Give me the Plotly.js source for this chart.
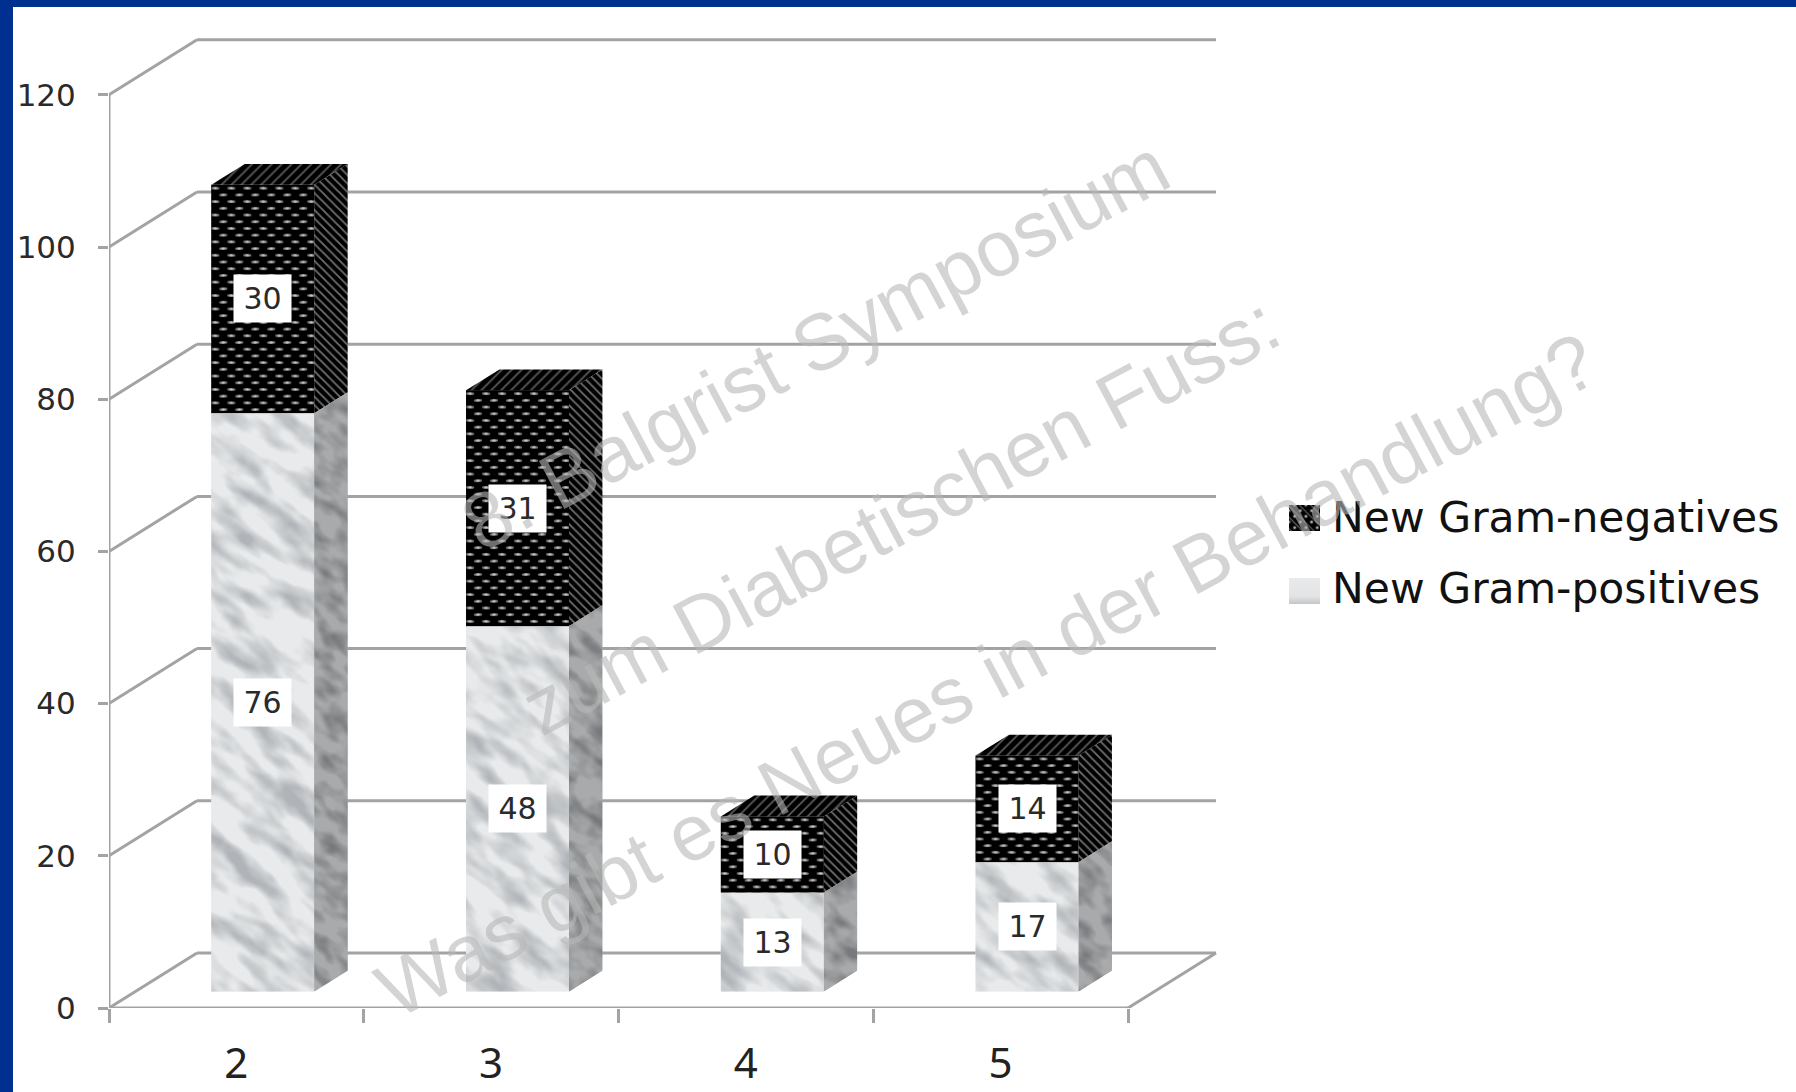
<!DOCTYPE html>
<html>
<head>
<meta charset="utf-8">
<script src="https://cdn.plot.ly/plotly-3.0.1.min.js"></script>
<style>html,body{margin:0;padding:0;background:#fff;overflow:hidden}</style>
</head>
<body>
<div id="chart" style="width:1796px;height:1092px"></div>
<script>
// Chart values
const categories = [2, 3, 4, 5];
const gramPositives = [76, 48, 13, 17];
const gramNegatives = [30, 31, 10, 14];
const valueTicks = [0, 20, 40, 60, 80, 100, 120];
const categoryEdges = [1.5, 2.5, 3.5, 4.5, 5.5];
const seriesNames = ['New Gram-negatives', 'New Gram-positives'];
const watermarkLines = ['8. Balgrist Symposium', 'zum Diabetischen Fuss:', 'Was gibt es Neues in der Behandlung?'];

// Frame of the plot and the oblique projection used for the box look
const W = 1796, H = 1092;
const PLOT = {l: 109, r: 1230, t: 30, b: 1008};
const PX_X = 254.75, PX_Y = 7.61;          // pixels per category, pixels per value unit
const DEPTH_X = 88 / PX_X, DEPTH_Y = 55 / PX_Y; // full floor depth in axis units
const Z0 = 0.3, Z1 = 0.68, BAR_W = 0.404;  // box position within the depth, box width
const GRID = '#a3a3a3', TEXT = '#2a2a2a';

const px = v => (v - PLOT.l) / (PLOT.r - PLOT.l);
const py = v => 1 - (v - PLOT.t) / (PLOT.b - PLOT.t);
const project = (x, y, z) => [x + z * DEPTH_X, y + z * DEPTH_Y];
const svgUri = s => 'data:image/svg+xml;charset=utf-8,' + encodeURIComponent(s);

// Marble texture, optionally cut to a polygon given in pixels
function marble(w, h, seed, base, vein, freq, poly) {
  const rgb = [1, 3, 5].map(i => (parseInt(vein.substr(i, 2), 16) / 255).toFixed(3));
  const clip = poly ? `<clipPath id='c'><polygon points='${poly.map(p => p.join(',')).join(' ')}'/></clipPath>` : '';
  const cattr = poly ? "clip-path='url(#c)'" : '';
  const s = Math.max(w, h) * 2;
  return svgUri(`<svg xmlns='http://www.w3.org/2000/svg' width='${w}' height='${h}' viewBox='0 0 ${w} ${h}' preserveAspectRatio='none'>` +
    `<defs><filter id='m' x='0' y='0' width='100%' height='100%' color-interpolation-filters='sRGB'>` +
    `<feTurbulence type='fractalNoise' baseFrequency='${freq}' numOctaves='6' seed='${seed}'/>` +
    `<feGaussianBlur stdDeviation='1.4'/>` +
    `<feColorMatrix values='0 0 0 0 ${rgb[0]} 0 0 0 0 ${rgb[1]} 0 0 0 0 ${rgb[2]} 2.8 0 0 0 -1.15'/></filter>${clip}</defs>` +
    `<g ${cattr}><rect width='${w}' height='${h}' fill='${base}'/>` +
    `<g transform='rotate(38 ${w / 2} ${h / 2})'><rect x='${w / 2 - s}' y='${h / 2 - s}' width='${2 * s}' height='${2 * s}' filter='url(#m)'/></g></g></svg>`);
}

// Staggered dot weave for the dark front faces
function weave(w, h) {
  return svgUri(`<svg xmlns='http://www.w3.org/2000/svg' width='${w}' height='${h}' viewBox='0 0 ${w} ${h}' preserveAspectRatio='none'>` +
    `<defs><pattern id='p' width='16' height='13.4' patternUnits='userSpaceOnUse'>` +
    `<rect width='16' height='13.4' fill='#000'/>` +
    `<ellipse cx='4' cy='3.3' rx='4.2' ry='1.5' fill='#7c7c7c'/><ellipse cx='4' cy='3.3' rx='1.8' ry='0.9' fill='#c8c8c8'/>` +
    `<ellipse cx='12' cy='10' rx='4.2' ry='1.5' fill='#7c7c7c'/><ellipse cx='12' cy='10' rx='1.8' ry='0.9' fill='#c8c8c8'/>` +
    `</pattern></defs><rect width='${w}' height='${h}' fill='url(#p)'/></svg>`);
}

const frontX = categories.map(c => project(c, 0, Z0)[0]);
const baseLift = project(0, 0, Z0)[1];
const negBase = gramPositives.map(v => baseLift + v);

const sideDx = (Z1 - Z0) * DEPTH_X, sideDy = (Z1 - Z0) * DEPTH_Y;
const faceTraces = [];
const images = [];

function face(xs, ys, fill) {
  faceTraces.push(Object.assign({
    type: 'scatter', mode: 'lines', x: xs, y: ys, fill: 'toself',
    line: {width: 0, color: 'rgba(0,0,0,0)'}, showlegend: false, hoverinfo: 'skip'
  }, fill));
}
const sideWeave = {fillcolor: '#000', fillpattern: {shape: '\\', bgcolor: '#000', fgcolor: '#6f6f6f', size: 6, solidity: 0.3}};
const topWeave = {fillcolor: '#000', fillpattern: {shape: '/', bgcolor: '#000', fgcolor: '#5a5a5a', size: 7, solidity: 0.25}};

categories.forEach((c, i) => {
  const xr = frontX[i] + BAR_W / 2, xl = frontX[i] - BAR_W / 2;
  const yb = baseLift, ym = negBase[i], yt = ym + gramNegatives[i];
  // right faces
  face([xr, xr + sideDx, xr + sideDx, xr, xr], [yb, yb + sideDy, ym + sideDy, ym, yb], {fillcolor: '#a2a4a5'});
  face([xr, xr + sideDx, xr + sideDx, xr, xr], [ym, ym + sideDy, yt + sideDy, yt, ym], sideWeave);
  // top face
  face([xl, xr, xr + sideDx, xl + sideDx, xl], [yt, yt, yt + sideDy, yt + sideDy, yt], topWeave);

  // marble on the light front face and its right side
  const fw = Math.round(BAR_W * PX_X), fh = Math.round(gramPositives[i] * PX_Y);
  images.push({
    source: marble(fw, fh, 11 + i * 7, '#e8eaeb', '#b0b4b8', '0.018 0.05'),
    xref: 'x', yref: 'y', x: xl, y: ym, sizex: BAR_W, sizey: gramPositives[i],
    xanchor: 'left', yanchor: 'top', sizing: 'stretch', layer: 'above'
  });
  const sw = Math.round(sideDx * PX_X), dy = Math.round(sideDy * PX_Y), sh = fh + dy;
  images.push({
    source: marble(sw, sh, 31 + i * 5, '#a8aaab', '#77797c', '0.04 0.08',
      [[0, sh], [sw, sh - dy], [sw, 0], [0, dy]]),
    xref: 'x', yref: 'y', x: xr, y: ym + sideDy, sizex: sideDx, sizey: gramPositives[i] + sideDy,
    xanchor: 'left', yanchor: 'top', sizing: 'stretch', layer: 'above'
  });
  // weave on the dark front face
  images.push({
    source: weave(fw, Math.round(gramNegatives[i] * PX_Y)),
    xref: 'x', yref: 'y', x: xl, y: yt, sizex: BAR_W, sizey: gramNegatives[i],
    xanchor: 'left', yanchor: 'top', sizing: 'stretch', layer: 'above'
  });
});

const positivesBar = {
  type: 'bar', name: seriesNames[1], x: frontX, y: gramPositives, base: frontX.map(() => baseLift),
  width: BAR_W, marker: {color: '#e6e8e9', line: {width: 0}}, showlegend: false, hoverinfo: 'skip'
};
const negativesBar = {
  type: 'bar', name: seriesNames[0], x: frontX, y: gramNegatives, base: negBase,
  width: BAR_W, marker: {color: '#000', line: {width: 0}}, showlegend: false, hoverinfo: 'skip'
};

// Walls and floor
const shapes = [];
const gridLine = (x0, y0, x1, y1) => shapes.push({
  type: 'line', xref: 'x', yref: 'y', x0, y0, x1, y1, layer: 'below',
  line: {color: GRID, width: 3}
});
const leftEdge = categoryEdges[0], rightEdge = categoryEdges[categoryEdges.length - 1];
valueTicks.forEach(t => {
  const [bx, by] = project(leftEdge, t, 1);
  const [ex] = project(rightEdge, t, 1);
  gridLine(leftEdge, t, bx, by);
  gridLine(bx, by, ex, by);
});
gridLine(leftEdge, 0, leftEdge, valueTicks[valueTicks.length - 1]);
gridLine(leftEdge, 0, rightEdge, 0);
gridLine(rightEdge, 0, project(rightEdge, 0, 1)[0], project(rightEdge, 0, 1)[1]);

// Page frame
const FRAME = '#00308f';
shapes.push(
  {type: 'rect', xref: 'paper', yref: 'paper', x0: px(0), x1: px(W), y0: py(0), y1: py(7), fillcolor: FRAME, line: {width: 0}},
  {type: 'rect', xref: 'paper', yref: 'paper', x0: px(0), x1: px(13), y0: py(0), y1: py(H), fillcolor: FRAME, line: {width: 0}}
);

// Value boxes
const annotations = [];
const valueBox = (x, y, v) => annotations.push({
  xref: 'x', yref: 'y', x, y, text: String(v), showarrow: false,
  bgcolor: '#fff', width: 55, height: 45, valign: 'middle', align: 'center',
  font: {family: 'DejaVu Sans', size: 30, color: TEXT}
});
categories.forEach((c, i) => {
  valueBox(frontX[i], baseLift + gramPositives[i] / 2, gramPositives[i]);
  valueBox(frontX[i], negBase[i] + gramNegatives[i] / 2, gramNegatives[i]);
});

// Legend
const LEGEND_FONT = {family: 'DejaVu Sans', size: 42.5, color: '#111'};
[[seriesNames[0], 517], [seriesNames[1], 588]].forEach(([t, y]) => annotations.push({
  xref: 'paper', yref: 'paper', x: px(1330), y: py(y), xanchor: 'left', yanchor: 'middle',
  text: t, showarrow: false, font: LEGEND_FONT
}));
const dotSwatch = svgUri(
  `<svg xmlns='http://www.w3.org/2000/svg' width='31' height='26'><defs><pattern id='p' width='8' height='8' patternUnits='userSpaceOnUse' patternTransform='rotate(45)'>` +
  `<rect width='8' height='8' fill='#000'/><circle cx='4' cy='4' r='1.5' fill='#aaa'/><rect x='0' y='0' width='8' height='1.4' fill='#555'/></pattern></defs><rect width='31' height='26' fill='url(#p)'/></svg>`);
const softSwatch = svgUri(
  `<svg xmlns='http://www.w3.org/2000/svg' width='31' height='26'><defs><linearGradient id='g' x1='0' y1='0' x2='0' y2='1'>` +
  `<stop offset='0' stop-color='#e9eaeb'/><stop offset='0.7' stop-color='#e2e4e5'/><stop offset='1' stop-color='#c4c6c8'/></linearGradient></defs><rect width='31' height='26' fill='url(#g)'/></svg>`);
[[dotSwatch, 505], [softSwatch, 578]].forEach(([source, top]) => images.push({
  source, xref: 'paper', yref: 'paper', x: px(1289), y: py(top),
  sizex: 31 / (PLOT.r - PLOT.l), sizey: 26 / (PLOT.b - PLOT.t),
  xanchor: 'left', yanchor: 'top', sizing: 'stretch', layer: 'above'
}));

// Diagonal overprint
[[815, 344], [900, 515], [986, 675]].forEach(([x, y], i) => annotations.push({
  xref: 'paper', yref: 'paper', x: px(x), y: py(y), xanchor: 'center', yanchor: 'middle',
  text: watermarkLines[i], textangle: -28, showarrow: false,
  font: {family: 'Liberation Sans', size: 79, color: 'rgba(183,183,183,0.6)'}
}));

const layout = {
  width: W, height: H, autosize: false,
  paper_bgcolor: '#fff', plot_bgcolor: 'rgba(0,0,0,0)',
  margin: {l: PLOT.l, r: W - PLOT.r, t: PLOT.t, b: H - PLOT.b, pad: 0},
  barmode: 'overlay', showlegend: false,
  xaxis: {
    range: [leftEdge, leftEdge + (PLOT.r - PLOT.l) / PX_X], showgrid: false, zeroline: false, showline: false,
    tickmode: 'array', tickvals: categories, ticktext: categories.map(String), ticks: '',
    ticklabelstandoff: 27, tickfont: {family: 'Noto Sans', size: 42, color: '#222'},
    minor: {tickmode: 'array', tickvals: categoryEdges, ticks: 'outside', ticklen: 14, tickwidth: 3, tickcolor: GRID, showgrid: false}
  },
  yaxis: {
    range: [0, (PLOT.b - PLOT.t) / PX_Y], showgrid: false, zeroline: false, showline: false,
    tickmode: 'array', tickvals: valueTicks, ticktext: valueTicks.map(String),
    ticks: 'outside', ticklen: 10, tickwidth: 3, tickcolor: GRID, ticklabelstandoff: 16,
    tickfont: {family: 'DejaVu Sans', size: 31, color: TEXT}
  },
  shapes, annotations, images
};

Plotly.newPlot('chart', [positivesBar, negativesBar, ...faceTraces], layout, {displayModeBar: false, staticPlot: true});
</script>
</body>
</html>
